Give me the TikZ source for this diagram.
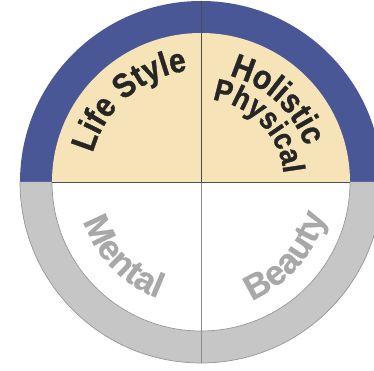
\documentclass[tikz,border=0pt]{standalone}
\usepackage{fontspec}
\setmainfont{Liberation Sans}
\newfontfamily\lblfamily[FakeStretch=0.88,FakeBold=1]{Liberation Sans Bold}
\newfontfamily\botfamily[FakeBold=0.5]{Liberation Sans Bold}
\usetikzlibrary{decorations.text}
\definecolor{ringblue}{RGB}{73,87,150}
\definecolor{ringgray}{RGB}{198,198,198}
\definecolor{edgegray}{RGB}{150,150,150}
\definecolor{beige}{RGB}{246,228,184}
\definecolor{darktext}{RGB}{38,38,38}
\definecolor{graytext}{RGB}{168,168,168}
\newcommand\topfnt{\lblfamily\fontsize{34}{34}\selectfont}
\newcommand\physfnt{\lblfamily\fontsize{31}{31}\selectfont}
\newcommand\botfnt{\botfamily\fontsize{35}{35}\selectfont}
\begin{document}
\begin{tikzpicture}[x=1pt,y=1pt,
  divline/.style={line width=0.9pt}]
\useasboundingbox (0,0) rectangle (374,371);
\clip (0,0) rectangle (374,371);
\begin{scope}[shift={(201,189)}]
  \coordinate (O) at (0,0);
  \coordinate (T) at (90:181);
  \coordinate (B) at (270:181);
  \coordinate (L) at (180:149);
  \coordinate (R) at (0:149);
  % outer ring
  \fill[ringblue] (181,0) arc[start angle=0,end angle=180,radius=181] -- cycle;
  \fill[ringgray] (181,0) arc[start angle=0,end angle=-180,radius=181] -- cycle;
  \draw[edgegray,line width=0.7pt] (-181,0) arc[start angle=180,end angle=360,radius=181];
  % inner disc
  \fill[beige] (149,0) arc[start angle=0,end angle=180,radius=149] -- cycle;
  \fill[white] (149,0) arc[start angle=0,end angle=-180,radius=149] -- cycle;
  \draw[edgegray,line width=0.7pt] (-149,0) arc[start angle=180,end angle=360,radius=149];
  % dividers
  \draw[divline,color=black!70] (T) -- (O);
  \draw[divline,color=black!45] (O) -- (B);
  \draw[divline,color=black!70] (L) -- (R);
  % labels
  \path[decorate,decoration={text along path,text align=center,text color=darktext,text={|\topfnt|Life Style}}]
    (191:112) arc[start angle=191,end angle=71,radius=112];
  \path[decorate,decoration={text along path,text align=center,text color=darktext,text={|\topfnt|Holistic}}]
    (107:110) arc[start angle=107,end angle=-13,radius=110];
  \path[decorate,decoration={text along path,text align=center,text color=darktext,text={|\physfnt|Physical}}]
    (104:83) arc[start angle=104,end angle=-16,radius=83];
  \path[decorate,decoration={text along path,text align=center,text color=graytext,text={|\botfnt|Mental}}]
    (164:124) arc[start angle=164,end angle=284,radius=124];
  \path[decorate,decoration={text along path,text align=center,text color=graytext,text={|\botfnt|Beauty}}]
    (259:129) arc[start angle=259,end angle=379,radius=129];
\end{scope}
\end{tikzpicture}
\end{document}
